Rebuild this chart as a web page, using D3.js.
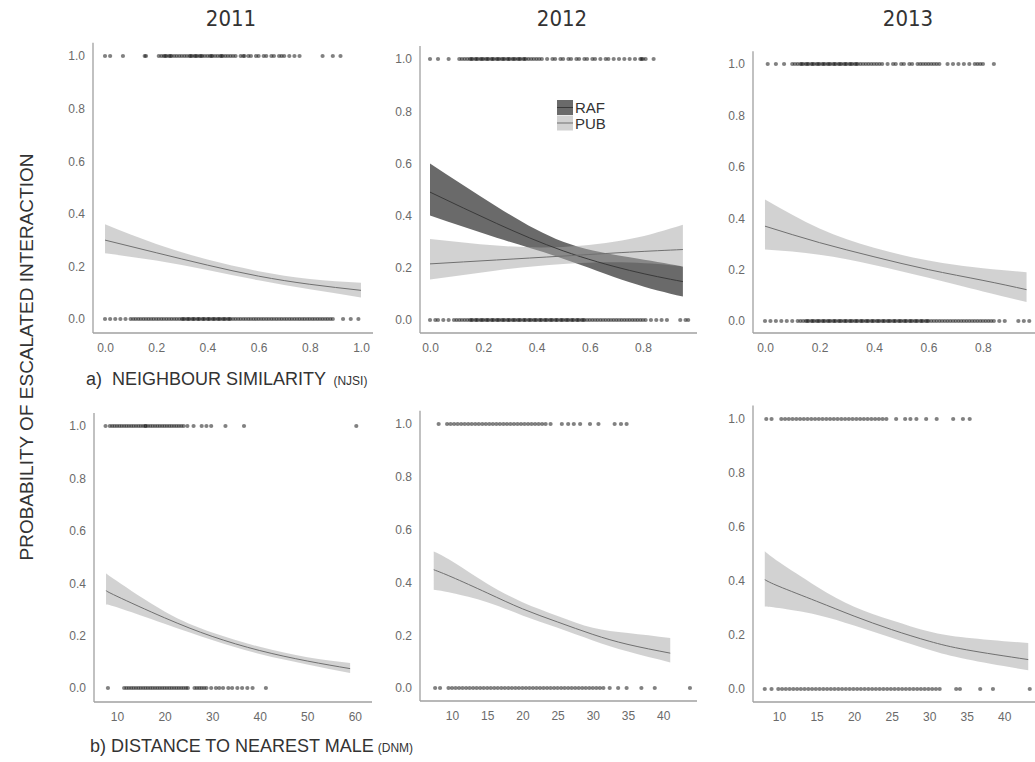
<!DOCTYPE html>
<html>
<head>
<meta charset="utf-8">
<script src="https://cdn.jsdelivr.net/npm/d3@7/dist/d3.min.js"></script>
<style>
  html, body { margin: 0; padding: 0; background: #fff; }
  svg { display: block; }
</style>
</head>
<body>
<svg id="chart" width="1035" height="762"></svg>
<script>
// ---- Titles and labels ----
const years = ["2011", "2012", "2013"];
const yLabel = "PROBABILITY OF ESCALATED INTERACTION";
const rowLabelA = "a)  NEIGHBOUR SIMILARITY";
const rowLabelASuffix = "(NJSI)";
const rowLabelB = "b) DISTANCE TO NEAREST MALE";
const rowLabelBSuffix = "(DNM)";
const yTicks = [0.0, 0.2, 0.4, 0.6, 0.8, 1.0];
const njsiTicks2011 = [0.0, 0.2, 0.4, 0.6, 0.8, 1.0];
const njsiTicks = [0.0, 0.2, 0.4, 0.6, 0.8];
const dnmTicks2011 = [10, 20, 30, 40, 50, 60];
const dnmTicks = [10, 15, 20, 25, 30, 35, 40];
const legendGroups = ["RAF", "PUB"];

// ---- Observed interactions (x values of escalated = 1 and not escalated = 0) ----
const njsi2011Ones = [0.00,0.02,0.07,0.155,0.16,0.21,0.22,0.23,0.235,0.24,0.25,0.255,0.26,0.27,0.28,0.29,0.30,0.31,0.32,0.33,0.335,0.34,0.35,0.355,0.36,0.37,0.375,0.38,0.39,0.40,0.41,0.415,0.42,0.43,0.44,0.45,0.455,0.46,0.47,0.48,0.49,0.50,0.51,0.53,0.54,0.545,0.56,0.57,0.59,0.60,0.62,0.63,0.65,0.66,0.68,0.69,0.70,0.72,0.74,0.76,0.85,0.89,0.92];
const njsi2011Zeros = [0.00,0.02,0.04,0.06,0.08,0.10,0.11,0.12,0.13,0.14,0.15,0.16,0.17,0.18,0.19,0.20,0.21,0.22,0.23,0.24,0.25,0.26,0.27,0.28,0.29,0.30,0.305,0.31,0.32,0.325,0.33,0.34,0.345,0.35,0.36,0.365,0.37,0.38,0.385,0.39,0.40,0.405,0.41,0.42,0.425,0.43,0.44,0.445,0.45,0.46,0.465,0.47,0.48,0.485,0.49,0.50,0.51,0.52,0.53,0.54,0.55,0.56,0.57,0.58,0.59,0.60,0.61,0.62,0.63,0.64,0.65,0.66,0.67,0.68,0.69,0.70,0.71,0.72,0.73,0.74,0.75,0.76,0.77,0.78,0.79,0.80,0.81,0.82,0.83,0.84,0.85,0.86,0.87,0.88,0.89,0.93,0.96,0.99];

const njsi2012Ones = [0.00,0.03,0.07,0.11,0.12,0.13,0.14,0.15,0.155,0.16,0.17,0.175,0.18,0.19,0.195,0.20,0.21,0.215,0.22,0.23,0.235,0.24,0.25,0.255,0.26,0.27,0.275,0.28,0.29,0.295,0.30,0.31,0.315,0.32,0.33,0.335,0.34,0.35,0.355,0.36,0.37,0.38,0.39,0.40,0.41,0.42,0.44,0.46,0.47,0.49,0.50,0.52,0.53,0.55,0.56,0.58,0.59,0.61,0.62,0.64,0.66,0.67,0.69,0.71,0.73,0.75,0.77,0.79,0.795,0.80,0.81,0.84];
const njsi2012Zeros = [0.00,0.02,0.03,0.05,0.07,0.09,0.10,0.11,0.12,0.13,0.14,0.15,0.155,0.16,0.17,0.175,0.18,0.19,0.195,0.20,0.21,0.215,0.22,0.23,0.235,0.24,0.25,0.255,0.26,0.27,0.275,0.28,0.29,0.295,0.30,0.31,0.315,0.32,0.33,0.335,0.34,0.35,0.355,0.36,0.37,0.375,0.38,0.39,0.395,0.40,0.41,0.415,0.42,0.43,0.435,0.44,0.45,0.455,0.46,0.47,0.475,0.48,0.49,0.495,0.50,0.51,0.515,0.52,0.53,0.535,0.54,0.55,0.555,0.56,0.57,0.575,0.58,0.59,0.60,0.61,0.62,0.63,0.64,0.65,0.66,0.67,0.68,0.69,0.70,0.71,0.72,0.73,0.74,0.75,0.76,0.77,0.78,0.79,0.80,0.81,0.83,0.85,0.87,0.89,0.94,0.96,0.97];

const njsi2013Ones = [0.01,0.04,0.07,0.10,0.11,0.12,0.13,0.135,0.14,0.15,0.155,0.16,0.17,0.175,0.18,0.19,0.195,0.20,0.21,0.215,0.22,0.23,0.235,0.24,0.25,0.255,0.26,0.27,0.275,0.28,0.29,0.295,0.30,0.31,0.315,0.32,0.33,0.335,0.34,0.35,0.36,0.37,0.38,0.39,0.40,0.41,0.42,0.43,0.45,0.47,0.48,0.50,0.51,0.53,0.54,0.56,0.57,0.58,0.59,0.60,0.61,0.62,0.63,0.64,0.67,0.69,0.71,0.73,0.75,0.77,0.78,0.79,0.80,0.84];
const njsi2013Zeros = [0.00,0.02,0.04,0.06,0.08,0.10,0.12,0.13,0.14,0.15,0.155,0.16,0.17,0.175,0.18,0.19,0.195,0.20,0.21,0.215,0.22,0.23,0.235,0.24,0.25,0.255,0.26,0.27,0.275,0.28,0.29,0.295,0.30,0.31,0.315,0.32,0.33,0.335,0.34,0.35,0.355,0.36,0.37,0.375,0.38,0.39,0.395,0.40,0.41,0.415,0.42,0.43,0.435,0.44,0.45,0.455,0.46,0.47,0.475,0.48,0.49,0.495,0.50,0.51,0.515,0.52,0.53,0.535,0.54,0.55,0.555,0.56,0.57,0.575,0.58,0.59,0.595,0.60,0.61,0.62,0.63,0.64,0.65,0.66,0.67,0.68,0.69,0.70,0.71,0.72,0.73,0.74,0.75,0.76,0.77,0.78,0.79,0.80,0.81,0.82,0.83,0.84,0.86,0.88,0.93,0.95,0.97];

const dnm2011Ones = [7.6,8.5,9,9.5,10,10.5,11,11.5,12,12.5,13,13.5,14,14.5,15,15.5,16,16,16.5,17,17.5,18,18.5,19,19.5,20,20.5,21,21.5,22,22.5,23,23.5,24,24.8,26.1,27.8,28.8,29.8,32.8,36.7,60.3];
const dnm2011Zeros = [8.1,11.5,12,12.5,13,13.5,14,14.5,15,15.5,16,16.5,17,17.5,18,18.5,19,19.5,20,20.5,21,21.5,22,22.5,23,23.5,24,24.5,24.9,26.3,26.8,27.3,27.8,28.3,28.8,29.8,30.8,31.5,32.3,33.4,34.2,35.3,36.3,37.4,38.5,41.3];

const dnm2012Ones = [8.1,9.3,9.8,10.3,10.8,11.3,11.8,12.3,12.8,13.3,13.8,14.3,14.8,15.3,15.8,16.3,16.8,17.3,17.8,18.3,18.8,19.3,19.8,20.3,20.8,21.3,21.8,22.3,22.8,23.3,24,25.6,26.5,27.3,28.2,29.6,30.8,33.1,34,34.8];
const dnm2012Zeros = [7.6,8.3,9.5,10,10.5,11,11.5,12,12.5,13,13.5,14,14.5,15,15.5,16,16.5,17,17.5,18,18.5,19,19.5,20,20.5,21,21.5,22,22.5,23,23.5,24,24.5,25,25.5,26,26.5,27,27.5,28,28.5,29,29.5,30,30.5,31,31.5,32.4,33.6,34.8,36.9,38.8,43.8];

const dnm2013Ones = [8.3,9.0,10.3,10.8,11.3,11.8,12.3,12.8,13.3,13.8,14.3,14.8,15.3,15.8,16.3,16.8,17.3,17.8,18.3,18.8,19.3,19.8,20.3,20.8,21.3,21.8,22.3,22.8,23.3,23.8,24.3,25.6,26.8,27.5,28.3,29.6,31,33.2,34.5,35.4];
const dnm2013Zeros = [8.1,9.0,9.9,10.4,10.9,11.4,11.9,12.4,12.9,13.4,13.9,14.4,14.9,15.4,15.9,16.4,16.9,17.4,17.9,18.4,18.9,19.4,19.9,20.4,20.9,21.4,21.9,22.4,22.9,23.4,23.9,24.4,24.9,25.4,25.9,26.4,26.9,27.4,27.9,28.4,28.9,29.4,29.9,30.4,30.9,31.4,33.6,34.1,36.8,38.5,43.4];

// ---- Fitted probabilities with confidence bands ----
const njsi2011X   = [0, 0.2, 0.4, 0.6, 0.8, 1.0];
const njsi2011Fit = [0.300, 0.252, 0.205, 0.163, 0.132, 0.109];
const njsi2011Lo  = [0.250, 0.222, 0.186, 0.147, 0.113, 0.082];
const njsi2011Hi  = [0.360, 0.285, 0.226, 0.182, 0.152, 0.138];

const njsi2012X      = [0, 0.25, 0.5, 0.75, 0.95];
const njsi2012RafFit = [0.490, 0.370, 0.265, 0.190, 0.147];
const njsi2012RafLo  = [0.400, 0.315, 0.235, 0.145, 0.090];
const njsi2012RafHi  = [0.600, 0.435, 0.300, 0.240, 0.205];
const njsi2012PubFit = [0.215, 0.230, 0.245, 0.260, 0.270];
const njsi2012PubLo  = [0.155, 0.190, 0.215, 0.220, 0.205];
const njsi2012PubHi  = [0.310, 0.285, 0.280, 0.310, 0.365];

const njsi2013X   = [0, 0.2, 0.4, 0.6, 0.8, 0.96];
const njsi2013Fit = [0.369, 0.305, 0.250, 0.200, 0.158, 0.122];
const njsi2013Lo  = [0.278, 0.258, 0.218, 0.168, 0.115, 0.074];
const njsi2013Hi  = [0.473, 0.360, 0.285, 0.235, 0.205, 0.190];

const dnm2011X   = [7.7, 10, 20, 30, 40, 50, 59];
const dnm2011Fit = [0.372, 0.350, 0.268, 0.197, 0.143, 0.103, 0.074];
const dnm2011Lo  = [0.318, 0.308, 0.245, 0.183, 0.130, 0.090, 0.057];
const dnm2011Hi  = [0.438, 0.408, 0.292, 0.212, 0.157, 0.117, 0.095];

const dnm2012X   = [7.4, 10, 15, 20, 25, 30, 35, 41];
const dnm2012Fit = [0.448, 0.420, 0.360, 0.300, 0.250, 0.203, 0.165, 0.132];
const dnm2012Lo  = [0.372, 0.360, 0.325, 0.275, 0.228, 0.180, 0.138, 0.097];
const dnm2012Hi  = [0.517, 0.480, 0.395, 0.325, 0.273, 0.228, 0.208, 0.189];

const dnm2013X   = [8.1, 10, 15, 20, 25, 30, 35, 43.2];
const dnm2013Fit = [0.405, 0.380, 0.325, 0.270, 0.220, 0.177, 0.145, 0.109];
const dnm2013Lo  = [0.306, 0.300, 0.275, 0.235, 0.190, 0.145, 0.110, 0.069];
const dnm2013Hi  = [0.510, 0.470, 0.380, 0.305, 0.255, 0.213, 0.190, 0.170];

// ---- Styles ----
const styles = {
  PUB: { band: "#a6a6a6", bandOpacity: 0.5, line: "#707070" },
  RAF: { band: "#505050", bandOpacity: 0.85, line: "#3a3a3a" }
};

const makeSeries = (group, x, fit, lo, hi) =>
  x.map((v, i) => ({ x: v, fit: fit[i], lo: lo[i], hi: hi[i], group }));

// Panel layout: axis left/right edge (px), data domain, y of 0 and 1, bottom axis line
const panels = [
  { title: years[0], titleX: 231, left: 93, right: 373, xDom: [-0.047, 1.047], y0: 319, y1: 56, bottom: 333,
    ticks: njsiTicks2011, fmt: d3.format(".1f"), ones: njsi2011Ones, zeros: njsi2011Zeros,
    series: [makeSeries("PUB", njsi2011X, njsi2011Fit, njsi2011Lo, njsi2011Hi)] },
  { title: years[1], titleX: 562, left: 420, right: 697, xDom: [-0.0376, 1.003], y0: 320, y1: 59, bottom: 333,
    ticks: njsiTicks, fmt: d3.format(".1f"), ones: njsi2012Ones, zeros: njsi2012Zeros, legend: true,
    series: [makeSeries("RAF", njsi2012X, njsi2012RafFit, njsi2012RafLo, njsi2012RafHi),
             makeSeries("PUB", njsi2012X, njsi2012PubFit, njsi2012PubLo, njsi2012PubHi)] },
  { title: years[2], titleX: 908, left: 753, right: 1035, xDom: [-0.044, 0.991], y0: 321, y1: 64, bottom: 333,
    ticks: njsiTicks, fmt: d3.format(".1f"), ones: njsi2013Ones, zeros: njsi2013Zeros,
    series: [makeSeries("PUB", njsi2013X, njsi2013Fit, njsi2013Lo, njsi2013Hi)] },
  { left: 94, right: 372, xDom: [5.17, 63.6], y0: 688, y1: 426, bottom: 702,
    ticks: dnmTicks2011, fmt: d3.format("d"), ones: dnm2011Ones, zeros: dnm2011Zeros,
    series: [makeSeries("PUB", dnm2011X, dnm2011Fit, dnm2011Lo, dnm2011Hi)] },
  { left: 420, right: 697, xDom: [5.45, 44.8], y0: 688, y1: 424, bottom: 701,
    ticks: dnmTicks, fmt: d3.format("d"), ones: dnm2012Ones, zeros: dnm2012Zeros,
    series: [makeSeries("PUB", dnm2012X, dnm2012Fit, dnm2012Lo, dnm2012Hi)] },
  { left: 753, right: 1035, xDom: [6.53, 44.1], y0: 689, y1: 419, bottom: 702,
    ticks: dnmTicks, fmt: d3.format("d"), ones: dnm2013Ones, zeros: dnm2013Zeros,
    series: [makeSeries("PUB", dnm2013X, dnm2013Fit, dnm2013Lo, dnm2013Hi)] }
];

const svg = d3.select("#chart");
const sans = "'Liberation Sans', Arial, Helvetica, sans-serif";

panels.forEach(p => {
  const x = d3.scaleLinear().domain(p.xDom).range([p.left, p.right]);
  const y = d3.scaleLinear().domain([0, 1]).range([p.y0, p.y1]);
  const g = svg.append("g");

  // confidence bands, then fitted lines
  p.series.forEach(s => {
    const st = styles[s[0].group];
    g.append("path").datum(s)
      .attr("d", d3.area().curve(d3.curveNatural)
        .x(d => x(d.x)).y0(d => y(d.lo)).y1(d => y(d.hi)))
      .attr("fill", st.band).attr("fill-opacity", st.bandOpacity);
  });
  p.series.forEach(s => {
    const st = styles[s[0].group];
    g.append("path").datum(s)
      .attr("d", d3.line().curve(d3.curveNatural).x(d => x(d.x)).y(d => y(d.fit)))
      .attr("fill", "none").attr("stroke", st.line).attr("stroke-width", 1);
  });

  // observations
  const obs = p.ones.map(v => ({ x: v, y: 1 })).concat(p.zeros.map(v => ({ x: v, y: 0 })));
  g.append("g").selectAll("circle").data(obs).join("circle")
    .attr("cx", d => x(d.x)).attr("cy", d => y(d.y)).attr("r", 2.1)
    .attr("fill", "#1a1a1a").attr("fill-opacity", 0.55);

  // axes (lines and labels only)
  const axisColor = "#a0a0a0";
  g.append("line").attr("x1", p.left).attr("x2", p.left)
    .attr("y1", y(1.05)).attr("y2", p.bottom)
    .attr("stroke", axisColor).attr("stroke-width", 1.3);
  g.append("line").attr("x1", p.left).attr("x2", p.right)
    .attr("y1", p.bottom).attr("y2", p.bottom)
    .attr("stroke", axisColor).attr("stroke-width", 1.3);

  const yAxis = d3.axisLeft(y).tickValues(yTicks).tickFormat(d3.format(".1f")).tickSize(0).tickPadding(8);
  const ya = g.append("g").attr("transform", `translate(${p.left},0)`).call(yAxis);
  const xAxis = d3.axisBottom(x).tickValues(p.ticks).tickFormat(p.fmt).tickSize(0).tickPadding(10);
  const xa = g.append("g").attr("transform", `translate(0,${p.bottom})`).call(xAxis);
  [ya, xa].forEach(a => {
    a.select(".domain").remove();
    a.selectAll("text").attr("fill", "#6a6a6a").attr("font-family", sans).attr("font-size", 12);
  });

  if (p.title) {
    svg.append("text").text(p.title)
      .attr("x", p.titleX).attr("y", 26)
      .attr("text-anchor", "middle")
      .attr("font-family", "'DejaVu Sans Condensed', 'DejaVu Sans', sans-serif")
      .attr("font-stretch", "condensed")
      .attr("font-size", 22).attr("fill", "#333");
  }

  if (p.legend) {
    const lg = g.append("g").attr("transform", "translate(557,100)");
    legendGroups.forEach((name, i) => {
      const st = styles[name];
      lg.append("rect").attr("x", 0).attr("y", i * 15.5).attr("width", 16).attr("height", 15)
        .attr("fill", st.band).attr("fill-opacity", st.bandOpacity);
      lg.append("line").attr("x1", 0).attr("x2", 16).attr("y1", i * 15.5 + 7.5).attr("y2", i * 15.5 + 7.5)
        .attr("stroke", st.line).attr("stroke-width", 1);
      lg.append("text").text(name).attr("x", 18).attr("y", i * 15.5 + 13)
        .attr("font-family", sans).attr("font-size", 15).attr("fill", "#333");
    });
  }
});

// shared y label
svg.append("text").text(yLabel)
  .attr("transform", "translate(33,357) rotate(-90)")
  .attr("text-anchor", "middle")
  .attr("font-family", sans).attr("font-size", 19).attr("fill", "#333");

// row labels
const rowA = svg.append("text").attr("x", 86).attr("y", 385)
  .attr("font-family", sans).attr("fill", "#333");
rowA.append("tspan").text(rowLabelA).attr("font-size", 18).style("white-space", "pre");
rowA.append("tspan").text(" " + rowLabelASuffix).attr("font-size", 12).attr("dx", 4);

const rowB = svg.append("text").attr("x", 90).attr("y", 752)
  .attr("font-family", sans).attr("fill", "#333");
rowB.append("tspan").text(rowLabelB).attr("font-size", 18);
rowB.append("tspan").text(rowLabelBSuffix).attr("font-size", 12).attr("dx", 4);
</script>
</body>
</html>
